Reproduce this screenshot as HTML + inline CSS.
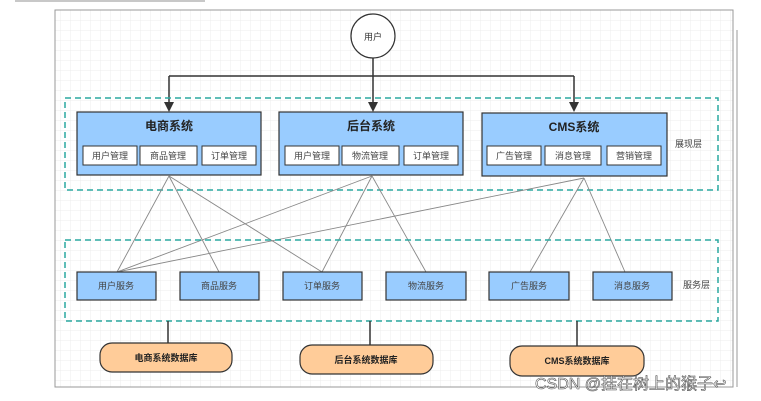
<!DOCTYPE html>
<html><head><meta charset="utf-8"><style>
body{margin:0;background:#fff;}
svg{display:block;font-family:"Liberation Sans","Noto Sans CJK SC",sans-serif;}
</style></head><body>
<svg width="761" height="401" viewBox="0 0 761 401">
<defs>
<pattern id="g" width="10" height="10" patternUnits="userSpaceOnUse"><path d="M10 0H0V10" fill="none" stroke="#ececec" stroke-width="1"/></pattern>
<marker id="a" markerWidth="8" markerHeight="8" refX="4" refY="7" orient="auto" markerUnits="userSpaceOnUse"><path d="M0 0L4 8L8 0L4 2Z" fill="#333" transform="rotate(-90 4 4)"/></marker>
</defs>
<rect x="15" y="0" width="190" height="2" fill="#c8c8c8"/>
<rect x="55" y="10" width="678" height="377" fill="url(#g)" stroke="#999" stroke-width="1"/>
<line x1="737" y1="30" x2="737" y2="387" stroke="#999"/>
<!-- user -->
<circle cx="373" cy="36" r="22" fill="#fff" stroke="#333" stroke-width="1.2"/>
<text x="373" y="40" font-size="9" text-anchor="middle" fill="#333">用户</text>
<path d="M373 58V76M169 76H574" stroke="#333" stroke-width="1.5" fill="none"/>
<path d="M169 76V104M373 76V104M574 76V104" stroke="#333" stroke-width="1.5"/>
<path d="M164 102L169 112L174 102Z M368 102L373 112L378 102Z M569 102L574 112L579 102Z" fill="#333"/>
<!-- layer 1 -->
<rect x="65" y="98" width="653" height="92" fill="none" stroke="#2aa8a0" stroke-width="1.5" stroke-dasharray="6,4"/>
<text x="675" y="147" font-size="9" fill="#444">展现层</text>
<g stroke="#333" stroke-width="1.2">
<rect x="77" y="112" width="184" height="63" fill="#99ccff"/>
<rect x="279" y="112" width="184" height="63" fill="#99ccff"/>
<rect x="482" y="113" width="185" height="63" fill="#99ccff"/>
</g>
<g font-size="12" font-weight="bold" text-anchor="middle" fill="#222">
<text x="169" y="130">电商系统</text><text x="371" y="130">后台系统</text><text x="574" y="131">CMS系统</text>
</g>
<g stroke="#333" stroke-width="1" fill="#fff">
<rect x="83" y="146" width="54" height="19"/><rect x="140" y="146" width="57" height="19"/><rect x="202" y="146" width="54" height="19"/>
<rect x="285" y="146" width="54" height="19"/><rect x="342" y="146" width="57" height="19"/><rect x="404" y="146" width="54" height="19"/>
<rect x="487" y="146" width="54" height="19"/><rect x="545" y="146" width="56" height="19"/><rect x="607" y="146" width="54" height="19"/>
</g>
<g font-size="9" text-anchor="middle" fill="#444">
<text x="110" y="159">用户管理</text><text x="168" y="159">商品管理</text><text x="229" y="159">订单管理</text>
<text x="312" y="159">用户管理</text><text x="370" y="159">物流管理</text><text x="431" y="159">订单管理</text>
<text x="514" y="159">广告管理</text><text x="573" y="159">消息管理</text><text x="634" y="159">营销管理</text>
</g>
<!-- connectors -->
<g stroke="#888" stroke-width="0.9">
<line x1="169" y1="176" x2="117" y2="272"/><line x1="169" y1="176" x2="219" y2="272"/><line x1="169" y1="176" x2="322" y2="272"/>
<line x1="372" y1="176" x2="117" y2="272"/><line x1="372" y1="176" x2="322" y2="272"/><line x1="372" y1="176" x2="426" y2="272"/>
<line x1="584" y1="178" x2="117" y2="272"/><line x1="584" y1="178" x2="530" y2="272"/><line x1="584" y1="178" x2="625" y2="272"/>
</g>
<!-- layer 2 -->
<rect x="65" y="240" width="653" height="81" fill="none" stroke="#2aa8a0" stroke-width="1.5" stroke-dasharray="6,4"/>
<text x="683" y="288" font-size="9" fill="#444">服务层</text>
<g stroke="#333" stroke-width="1.2" fill="#99ccff">
<rect x="77" y="272" width="79" height="28"/><rect x="180" y="272" width="79" height="28"/><rect x="283" y="272" width="79" height="28"/>
<rect x="386" y="272" width="80" height="28"/><rect x="489" y="272" width="80" height="28"/><rect x="593" y="272" width="79" height="28"/>
</g>
<g font-size="9" text-anchor="middle" fill="#444">
<text x="116" y="289">用户服务</text><text x="219" y="289">商品服务</text><text x="322" y="289">订单服务</text>
<text x="426" y="289">物流服务</text><text x="529" y="289">广告服务</text><text x="632" y="289">消息服务</text>
</g>
<!-- DBs -->
<g stroke="#333" stroke-width="1.5"><line x1="168" y1="321" x2="168" y2="343"/><line x1="370" y1="321" x2="370" y2="345"/><line x1="577" y1="321" x2="577" y2="346"/></g>
<g stroke="#333" stroke-width="1.2" fill="#ffcc99">
<rect x="100" y="343" width="132" height="29" rx="12"/><rect x="300" y="345" width="133" height="29" rx="12"/><rect x="510" y="346" width="134" height="30" rx="12"/>
</g>
<g font-size="9" font-weight="bold" text-anchor="middle" fill="#222">
<text x="166" y="361">电商系统数据库</text><text x="366" y="363">后台系统数据库</text><text x="577" y="364">CMS系统数据库</text>
</g>
<text x="535" y="389" font-size="16" fill="#fff" stroke="#555" stroke-width="0.6">CSDN @挂在树上的猴子↩</text>
</svg>
</body></html>
